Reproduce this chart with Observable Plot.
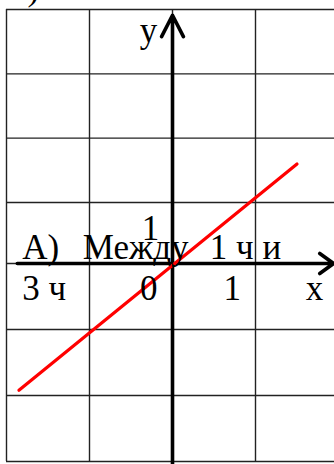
<!DOCTYPE html>
<html>
<head>
<meta charset="utf-8">
<script src="https://cdn.jsdelivr.net/npm/d3@7"></script>
<script src="https://cdn.jsdelivr.net/npm/@observablehq/plot@0.6"></script>
<style>
  html, body { margin: 0; padding: 0; background: #fff; }
  #chart svg { display: block; }
</style>
</head>
<body>
<div id="chart"></div>
<script>
// grid cells (data units)
const gridX = [-2, -1, 0, 1, 2];
const gridY = [-3, -2, -1, 0, 1, 2, 3, 4];

// red line y ≈ x
const lineX = [-1.85, 1.5];
const lineY = [-1.92, 1.6];

// axis extents (data units): [start of stem, arrow tip]
const axisXExtent = [-1.87, 1.94];
const axisYExtent = [-3.05, 3.91];

// text labels anchored at their start
const startText = ["Б)", "А)", "Между", "1 ч и", "3 ч"];
const startX = [-1.99, -1.81, -1.08, 0.45, -1.81];
const startY = [4.15, 0.08, 0.08, 0.08, -0.56];

// text labels anchored at their middle
const midText = ["y", "1", "0", "1", "x"];
const midX = [-0.29, -0.265, -0.285, 0.72, 1.71];
const midY = [3.49, 0.39, -0.56, -0.56, -0.56];

const lineData = lineX.map((x, i) => ({x, y: lineY[i]}));
const startData = startText.map((t, i) => ({t, x: startX[i], y: startY[i]}));
const midData = midText.map((t, i) => ({t, x: midX[i], y: midY[i]}));

// the squared paper in the picture is slightly uneven: cells above the x axis are a bit shorter
const yWarp = d3.scaleLinear().domain([-3, 0, 1, 4]).range([-198, 0, 61, 254]);

const axisWidth = 3.6;

const chart = Plot.plot({
  width: 334,
  height: 464,
  margin: 0,
  x: {domain: [-2, 2], range: [6, 338], axis: null},
  y: {transform: (v) => yWarp(v), domain: [yWarp(-3), yWarp(4)], range: [461, 9], axis: null},
  style: {fontFamily: "'Liberation Serif', serif", background: "#fff", overflow: "visible"},
  marks: [
    Plot.ruleY(gridY, {x1: -2, x2: 2, stroke: "#222", strokeWidth: 1.4}),
    Plot.ruleX(gridX, {y1: -3, y2: 4, stroke: "#222", strokeWidth: 1.4}),
    Plot.arrow([0], {
      x1: axisXExtent[0], x2: axisXExtent[1], y1: 0, y2: 0,
      stroke: "#000", strokeWidth: axisWidth, headLength: 17 * 1.5 / axisWidth, headAngle: 72
    }),
    Plot.arrow([0], {
      x1: 0, x2: 0, y1: axisYExtent[0], y2: axisYExtent[1],
      stroke: "#000", strokeWidth: axisWidth, headLength: 24 * 1.5 / axisWidth, headAngle: 54
    }),
    Plot.line(lineData, {x: "x", y: "y", stroke: "#ff0000", strokeWidth: 3.2}),
    Plot.text(startData, {
      x: "x", y: "y", text: "t", textAnchor: "start", lineAnchor: "bottom",
      fontSize: 35, fill: "#000"
    }),
    Plot.text(midData, {
      x: "x", y: "y", text: "t", textAnchor: "middle", lineAnchor: "bottom",
      fontSize: 35, fill: "#000"
    })
  ]
});
document.getElementById("chart").append(chart);
</script>
</body>
</html>
